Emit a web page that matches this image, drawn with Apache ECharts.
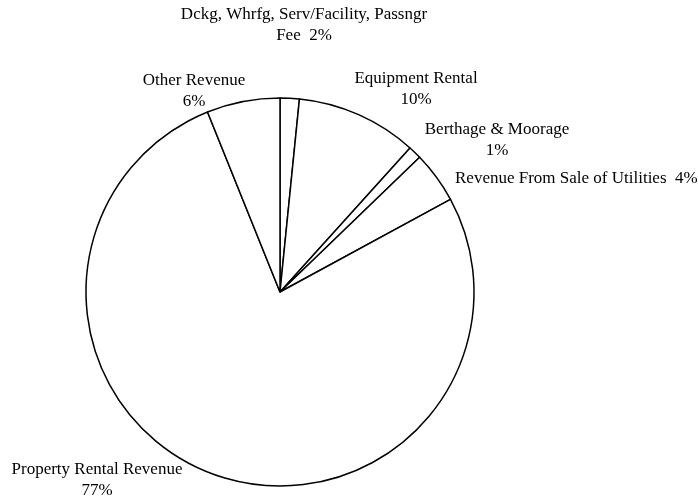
<!DOCTYPE html>
<html>
<head>
<meta charset="utf-8">
<script src="https://cdn.jsdelivr.net/npm/echarts@6/dist/echarts.min.js"></script>
<style>html,body{margin:0;padding:0;background:#fff}#c{width:698px;height:498px}</style>
</head>
<body>
<div id="c"></div>
<script>
var categories = [
  "Dckg, Whrfg, Serv/Facility, Passngr Fee",
  "Equipment Rental",
  "Berthage & Moorage",
  "Revenue From Sale of Utilities",
  "Property Rental Revenue",
  "Other Revenue"
];
var values = [1.6, 10.1, 1.1, 4.3, 76.9, 6.1];
var labelTexts = [
  "Dckg, Whrfg, Serv/Facility, Passngr\nFee  {p}%",
  "Equipment Rental\n{p}%",
  "Berthage & Moorage\n{p}%",
  "Revenue From Sale of Utilities  {p}%",
  "Property Rental Revenue\n{p}%",
  "Other Revenue\n{p}%"
];

var labelPos = [
  {x: 304, y: 25, align: 'center'},
  {x: 416, y: 89, align: 'center'},
  {x: 497, y: 140, align: 'center'},
  {x: 455, y: 179, align: 'left'},
  {x: 97, y: 480, align: 'center'},
  {x: 194, y: 91, align: 'center'}
];

var chart = echarts.init(document.getElementById('c'), null, {renderer: 'canvas'});
chart.setOption({
  backgroundColor: '#ffffff',
  animation: false,
  series: [{
    type: 'pie',
    center: [280, 292],
    radius: 194,
    startAngle: 90,
    clockwise: true,
    avoidLabelOverlap: false,
    percentPrecision: 0,
    itemStyle: {color: '#ffffff', borderColor: '#000000', borderWidth: 1.5},
    label: {
      show: true,
      position: 'outside',
      color: '#000000',
      fontFamily: 'Liberation Serif',
      fontSize: 17,
      lineHeight: 21,
      formatter: function (p) {
        return labelTexts[p.dataIndex].replace('{p}', Math.round(p.percent));
      }
    },
    labelLine: {show: false},
    labelLayout: function (params) {
      var lp = labelPos[params.dataIndex];
      return {x: lp.x, y: lp.y, align: lp.align, verticalAlign: 'middle'};
    },
    emphasis: {disabled: true},
    data: categories.map(function (n, i) { return {name: n, value: values[i]}; })
  }]
});
</script>
</body>
</html>
